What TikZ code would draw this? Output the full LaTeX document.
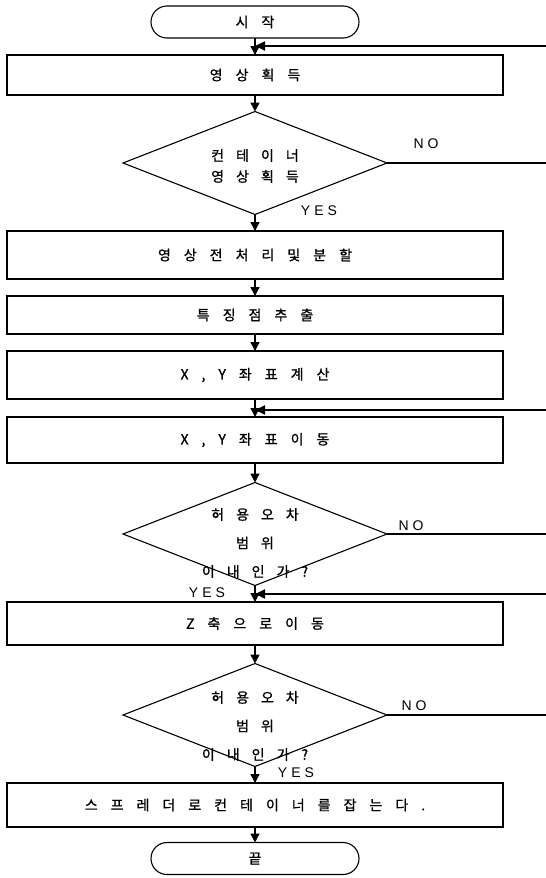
\documentclass[tikz,border=0pt]{standalone}
\usepackage{fontspec}
\setmainfont{Liberation Sans}
\newfontfamily\kr{Noto Sans CJK KR}[FakeBold=1]
\newcommand\setsp[1]{\spaceskip=#1\relax}
\newcommand\krfont{\kr\fontsize{14}{16}\selectfont}
\newcommand\krdfont{\kr\fontsize{14}{28.5}\selectfont}
\newcommand\krdfontb{\kr\fontsize{14}{21}\selectfont}
\newcommand\ynfont{\fontsize{14}{16}\selectfont}
\usetikzlibrary{arrows.meta,shapes.geometric,shapes.misc}
\begin{document}
\begin{tikzpicture}[x=1pt,y=-1pt,
  every node/.style={inner sep=0pt,outer sep=0pt},
  txt/.style={font=\krfont,execute at begin node={\setsp{13pt}}},
  dtxt/.style={align=center,font=\krdfont,execute at begin node={\setsp{12pt}}},
  yn/.style={font=\ynfont,execute at begin node={\setsp{4pt}}},
  box/.style={draw,line width=1.2pt,minimum width=496pt,txt},
  term/.style={draw,line width=1.1pt,rounded rectangle,minimum width=208pt,minimum height=32pt,txt},
  dia/.style={draw,line width=1.1pt,diamond,minimum width=264pt,minimum height=103pt},
  conn/.style={line width=1.4pt,-{Triangle[length=9pt,width=9pt]}},
  fb/.style={line width=1.8pt,-{Triangle[length=10pt,width=9pt]}},
  noline/.style={line width=1.3pt}]
\useasboundingbox (0,0) rectangle (546,878);
% nodes
\node[term] (start) at (255,22) {시 작};
\node[box,minimum height=40pt] (b1) at (255,75) {영 상 획 득};
\node[dia] (d1) at (255,163) {};
\node[dtxt,font=\krdfontb] (d1t) at (255,166) {컨 테 이 너\\영 상 획 득};
\node[box,minimum height=48pt] (b2) at (255,255) {영 상 전 처 리 및 분 할};
\node[box,minimum height=38pt] (b3) at (255,315) {특 징 점 추 출};
\node[box,minimum height=48pt] (b4) at (255,375) {X , Y 좌 표 계 산};
\node[box,minimum height=46pt] (b5) at (255,440) {X , Y 좌 표 이 동};
\node[dia] (d2) at (255,534) {};
\node[dtxt] (d2t) at (255,543) {허 용 오 차\\범 위\\이 내 인 가 ?};
\node[box,minimum height=43pt] (b6) at (255,623.5) {Z 축 으 로 이 동};
\node[dia] (d3) at (255,715) {};
\node[dtxt] (d3t) at (255,726) {허 용 오 차\\범 위\\이 내 인 가 ?};
\node[box,minimum height=44pt] (b7) at (255,805) {스 프 레 더 로 컨 테 이 너 를 잡 는 다 .};
\node[term] (end) at (255,858.5) {끝};
% labels
\node[yn] (no1) at (426,144) {N O};
\node[yn] (yes1) at (319,211) {Y E S};
\node[yn] (no2) at (411,526) {N O};
\node[yn] (yes2) at (207,593) {Y E S};
\node[yn] (no3) at (414,706) {N O};
\node[yn] (yes3) at (296,773) {Y E S};
% open ends at right edge
\coordinate (r1) at (546,46);
\coordinate (n1) at (546,163);
\coordinate (r2) at (546,410);
\coordinate (n2) at (546,534);
\coordinate (r3) at (546,594);
\coordinate (n3) at (546,715);
% connectors
\draw[conn] (start.south) -- (b1.north);
\draw[conn] (b1.south) -- (d1.north);
\draw[conn] (d1.south) -- (b2.north);
\draw[conn] (b2.south) -- (b3.north);
\draw[conn] (b3.south) -- (b4.north);
\draw[conn] (b4.south) -- (b5.north);
\draw[conn] (b5.south) -- (d2.north);
\draw[conn] (d2.south) -- (b6.north);
\draw[conn] (b6.south) -- (d3.north);
\draw[conn] (d3.south) -- (b7.north);
\draw[conn] (b7.south) -- (end.north);
\draw[fb] (r1) -- (b1.north |- r1);
\draw[fb] (r2) -- (b5.north |- r2);
\draw[fb] (r3) -- (b6.north |- r3);
\draw[noline] (d1.east) -- (n1);
\draw[noline] (d2.east) -- (n2);
\draw[noline] (d3.east) -- (n3);
\end{tikzpicture}
\end{document}
